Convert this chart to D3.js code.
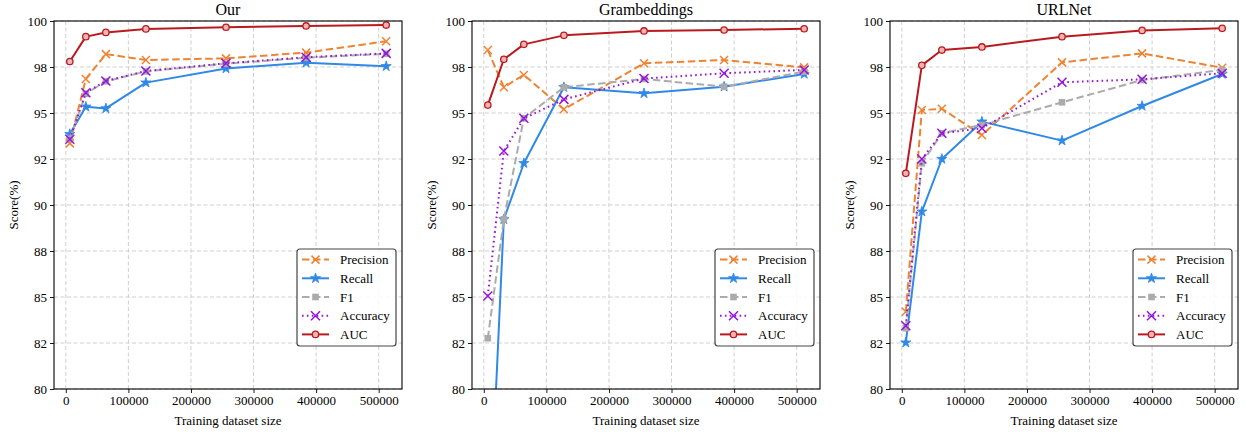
<!DOCTYPE html>
<html>
<head>
<meta charset="utf-8">
<script src="https://cdn.jsdelivr.net/npm/d3@7"></script>
<style>
  body { margin: 0; background: #fff; }
  svg { display: block; }
  text { font-family: "Liberation Serif", "Times New Roman", "DejaVu Serif", serif; font-weight: normal; }
</style>
</head>
<body>
<svg width="1246" height="435"></svg>
<script>
const svg = d3.select('svg');
const FONT = '"Liberation Serif", "Times New Roman", "DejaVu Serif", serif';

// training sizes
const sizes = [6400, 32000, 64000, 128000, 256000, 384000, 512000];

const seriesNames = ['Precision', 'Recall', 'F1', 'Accuracy', 'AUC'];

const yTicks = [80, 82.5, 85, 87.5, 90, 92.5, 95, 97.5, 100];
const yTickLabels = ['80', '82', '85', '88', '90', '92', '95', '98', '100'];
const xTicks = [0, 100000, 200000, 300000, 400000, 500000];

const panelTitles = ['Our', 'Grambeddings', 'URLNet'];

// scores per panel
const ourPrecision = [93.35, 96.85, 98.2, 97.88, 97.97, 98.28, 98.9];
const ourRecall    = [93.85, 95.34, 95.25, 96.65, 97.42, 97.73, 97.54];
const ourF1        = [93.6, 96.05, 96.72, 97.26, 97.68, 98.0, 98.22];
const ourAccuracy  = [93.57, 96.1, 96.74, 97.28, 97.7, 98.03, 98.24];
const ourAUC       = [97.8, 99.15, 99.38, 99.57, 99.66, 99.73, 99.78];

const gramPrecision = [98.42, 96.4, 97.07, 95.2, 97.7, 97.88, 97.48];
const gramRecall    = [70.3, 89.22, 92.27, 96.4, 96.07, 96.43, 97.12];
const gramF1        = [82.76, 89.22, 94.71, 96.4, 96.85, 96.43, 97.25];
const gramAccuracy  = [85.05, 92.93, 94.71, 95.74, 96.87, 97.16, 97.34];
const gramAUC       = [95.43, 97.92, 98.73, 99.22, 99.46, 99.51, 99.58];

const urlPrecision = [84.2, 95.16, 95.23, 93.8, 97.75, 98.24, 97.46];
const urlRecall    = [82.52, 89.64, 92.5, 94.53, 93.5, 95.38, 97.12];
const urlF1        = [83.3, 92.27, 93.9, 94.35, 95.58, 96.79, 97.34];
const urlAccuracy  = [83.44, 92.5, 93.9, 94.17, 96.67, 96.83, 97.16];
const urlAUC       = [91.72, 97.59, 98.42, 98.59, 99.15, 99.49, 99.6];

const panelData = [
    [ourPrecision, ourRecall, ourF1, ourAccuracy, ourAUC],
    [gramPrecision, gramRecall, gramF1, gramAccuracy, gramAUC],
    [urlPrecision, urlRecall, urlF1, urlAccuracy, urlAUC]
];

const styles = {
    Precision: {color: '#EE8432', dash: '7.5,3.5', marker: 'x', size: 4},
    Recall:    {color: '#3089E6', dash: null, marker: 'star', size: 32},
    F1:        {color: '#ABABAB', dash: '7.5,3.5', marker: 'square', size: 3.3},
    Accuracy:  {color: '#9515DA', dash: '1.6,3.3', marker: 'x', size: 4.5},
    AUC:       {color: '#BA1A1E', dash: null, marker: 'circle', size: 3.2}
};

const panelLeft = [54, 472, 890];
const panelW = 348;
const plotTop = 21, plotBottom = 389;

const pad = (d3.max(sizes) - d3.min(sizes)) * 0.05;
const xDomain = [d3.min(sizes) - pad, d3.max(sizes) + pad];

const y = d3.scaleLinear().domain([80, 100]).range([plotBottom, plotTop]);

function drawMarker(g, name, cx, cy) {
    const s = styles[name];
    if (s.marker === 'x') {
        const r = s.size;
        g.append('path')
            .attr('d', `M${cx - r},${cy - r}L${cx + r},${cy + r}M${cx + r},${cy - r}L${cx - r},${cy + r}`)
            .attr('stroke', s.color).attr('stroke-width', 1.5).attr('fill', 'none');
    } else if (s.marker === 'star') {
        g.append('path')
            .attr('d', d3.symbol().type(d3.symbolStar).size(s.size)())
            .attr('transform', `translate(${cx},${cy})`)
            .attr('fill', s.color).attr('stroke', s.color).attr('stroke-width', 0.8)
            .attr('stroke-linejoin', 'round');
    } else if (s.marker === 'square') {
        g.append('rect')
            .attr('x', cx - s.size).attr('y', cy - s.size)
            .attr('width', s.size * 2).attr('height', s.size * 2)
            .attr('fill', s.color);
    } else {
        g.append('circle')
            .attr('cx', cx).attr('cy', cy).attr('r', s.size)
            .attr('fill', '#efb3b3').attr('stroke', s.color).attr('stroke-width', 1.3);
    }
}

panelTitles.forEach((title, p) => {
    const left = panelLeft[p];
    const x = d3.scaleLinear().domain(xDomain).range([left, left + panelW]);
    const g = svg.append('g');

    // grid
    g.selectAll('.vg').data(xTicks).enter().append('line')
        .attr('x1', d => x(d)).attr('x2', d => x(d))
        .attr('y1', plotTop).attr('y2', plotBottom)
        .attr('stroke', '#cfcfcf').attr('stroke-width', 1).attr('stroke-dasharray', '4,2.5');
    g.selectAll('.hg').data(yTicks).enter().append('line')
        .attr('x1', left).attr('x2', left + panelW)
        .attr('y1', d => y(d)).attr('y2', d => y(d))
        .attr('stroke', '#cfcfcf').attr('stroke-width', 1).attr('stroke-dasharray', '4,2.5');

    // clip
    const clipId = 'clip' + p;
    svg.append('clipPath').attr('id', clipId).append('rect')
        .attr('x', left).attr('y', plotTop).attr('width', panelW).attr('height', plotBottom - plotTop);

    const plot = g.append('g').attr('clip-path', `url(#${clipId})`);
    const line = d3.line().x((d, i) => x(sizes[i])).y(d => y(d));

    seriesNames.forEach((name, k) => {
        const vals = panelData[p][k];
        const s = styles[name];
        plot.append('path')
            .attr('d', line(vals))
            .attr('fill', 'none')
            .attr('stroke', s.color)
            .attr('stroke-width', 2)
            .attr('stroke-dasharray', s.dash)
            .attr('stroke-linejoin', 'round');
        vals.forEach((v, i) => drawMarker(plot, name, x(sizes[i]), y(v)));
    });

    // axes
    const xAxis = g.append('g').attr('transform', `translate(0,${plotBottom})`)
        .call(d3.axisBottom(x).tickValues(xTicks).tickFormat(d3.format('d')).tickSize(4).tickPadding(3));
    const yAxis = g.append('g').attr('transform', `translate(${left},0)`)
        .call(d3.axisLeft(y).tickValues(yTicks).tickFormat((d, i) => yTickLabels[i]).tickSize(4).tickPadding(3));
    [xAxis, yAxis].forEach(a => {
        a.attr('font-family', FONT).attr('font-size', 13);
        a.select('.domain').remove();
        a.selectAll('text').attr('fill', '#000');
        a.selectAll('line').attr('stroke', '#000').attr('stroke-width', 0.9);
    });

    g.append('rect')
        .attr('x', left).attr('y', plotTop).attr('width', panelW).attr('height', plotBottom - plotTop)
        .attr('fill', 'none').attr('stroke', '#000').attr('stroke-width', 1.1);

    // title and labels
    g.append('text').attr('x', left + panelW / 2).attr('y', 15)
        .attr('text-anchor', 'middle').attr('font-size', 16).attr('font-family', FONT).text(title);
    g.append('text').attr('x', left + panelW / 2).attr('y', 425)
        .attr('text-anchor', 'middle').attr('font-size', 13).attr('font-family', FONT).text('Training dataset size');
    g.append('text')
        .attr('transform', `translate(${left - 36},${(plotTop + plotBottom) / 2}) rotate(-90)`)
        .attr('text-anchor', 'middle').attr('font-size', 13).attr('font-family', FONT).text('Score(%)');

    // legend
    const lx = left + panelW - 105, ly = 249;
    const lg = g.append('g');
    lg.append('rect').attr('x', lx).attr('y', ly).attr('width', 99).attr('height', 97)
        .attr('rx', 3).attr('fill', 'rgba(255,255,255,0.85)').attr('stroke', '#444').attr('stroke-width', 1.2);
    seriesNames.forEach((name, k) => {
        const s = styles[name];
        const ry = ly + 10.6 + k * 18.7;
        lg.append('line').attr('x1', lx + 5).attr('x2', lx + 32).attr('y1', ry).attr('y2', ry)
            .attr('stroke', s.color).attr('stroke-width', 2).attr('stroke-dasharray', s.dash);
        drawMarker(lg, name, lx + 18.5, ry);
        lg.append('text').attr('x', lx + 43).attr('y', ry + 4.5).attr('font-size', 13)
            .attr('font-family', FONT).text(name);
    });
});
</script>
</body>
</html>
